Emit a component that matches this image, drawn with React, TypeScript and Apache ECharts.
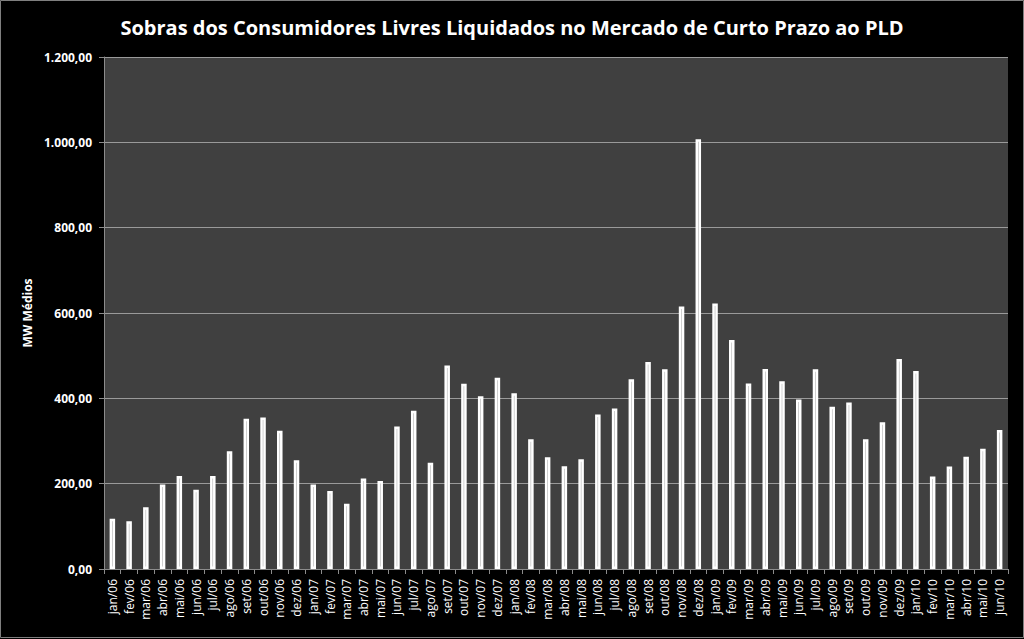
import React, { useEffect, useRef } from "react";
import * as echarts from "echarts";

const categories: string[] = [
  "jan/06", "fev/06", "mar/06", "abr/06", "mai/06", "jun/06", "jul/06", "ago/06", "set/06", "out/06", "nov/06", "dez/06",
  "jan/07", "fev/07", "mar/07", "abr/07", "mai/07", "jun/07", "jul/07", "ago/07", "set/07", "out/07", "nov/07", "dez/07",
  "jan/08", "fev/08", "mar/08", "abr/08", "mai/08", "jun/08", "jul/08", "ago/08", "set/08", "out/08", "nov/08", "dez/08",
  "jan/09", "fev/09", "mar/09", "abr/09", "mai/09", "jun/09", "jul/09", "ago/09", "set/09", "out/09", "nov/09", "dez/09",
  "jan/10", "fev/10", "mar/10", "abr/10", "mai/10", "jun/10",
];

const values: number[] = [
  118, 112, 145, 198, 218, 186, 218, 276, 352, 355, 324, 255,
  198, 183, 153, 212, 206, 334, 371, 249, 477, 434, 405, 448,
  412, 304, 262, 241, 257, 362, 376, 445, 485, 468, 615, 1007,
  622, 537, 435, 469, 440, 397, 468, 380, 390, 304, 344, 492,
  464, 217, 240, 263, 282, 326,
];

const yTicks = { min: 0, max: 1200, interval: 200 };

const fmt = (v: number) => {
  const s = v.toFixed(2);
  const [ip, dp] = s.split(".");
  return ip.replace(/\B(?=(\d{3})+(?!\d))/g, ".") + "," + dp;
};

export default function App() {
  const ref = useRef<HTMLDivElement>(null);
  useEffect(() => {
    if (!ref.current) return;
    const chart = echarts.init(ref.current, undefined, { renderer: "svg" });
    chart.setOption({
      animation: false,
      backgroundColor: "#000000",
      title: {
        text: "Sobras dos Consumidores Livres Liquidados no Mercado de Curto Prazo ao PLD",
        left: "center",
        top: 12,
        textStyle: {
          color: "#ffffff",
          fontFamily: "Open Sans",
          fontWeight: "bold",
          fontSize: 20,
        },
      },
      grid: {
        left: 104,
        right: 16,
        top: 57,
        bottom: 70,
        show: true,
        backgroundColor: "#404040",
        borderWidth: 0,
      },
      graphic: [
        {
          type: "rect",
          shape: { x: 0.5, y: 0.5, width: 1023, height: 637 },
          style: { fill: "none", stroke: "#7f7f7f", lineWidth: 1 },
          silent: true,
        },
      ],
      xAxis: {
        type: "category",
        data: categories,
        axisLine: { show: true, lineStyle: { color: "#8c8c8c", width: 1 } },
        axisTick: { show: true, length: 5, lineStyle: { color: "#8c8c8c" } },
        axisLabel: {
          color: "#ffffff",
          rotate: 90,
          interval: 0,
          fontFamily: "Open Sans",
          fontSize: 12,
          margin: 10,
        },
      },
      yAxis: {
        type: "value",
        min: yTicks.min,
        max: yTicks.max,
        interval: yTicks.interval,
        name: "MW Médios",
        nameLocation: "middle",
        nameGap: 70,
        nameRotate: 90,
        nameTextStyle: {
          color: "#ffffff",
          fontFamily: "Open Sans",
          fontWeight: "bold",
          fontSize: 12,
        },
        axisLine: { show: true, lineStyle: { color: "#8c8c8c", width: 1 } },
        axisTick: { show: true, length: 5, lineStyle: { color: "#8c8c8c" } },
        splitLine: { show: true, lineStyle: { color: "#9a9a9a", width: 1 } },
        axisLabel: {
          color: "#ffffff",
          fontFamily: "Open Sans",
          fontWeight: "bold",
          fontSize: 12,
          margin: 12,
          formatter: (v: number) => fmt(v),
        },
      },
      series: [
        {
          type: "bar",
          data: values,
          barWidth: 5.5,
          itemStyle: {
            color: "#a0a0a0",
            borderColor: "#ffffff",
            borderWidth: 2.5,
          },
        },
      ],
    });
    return () => chart.dispose();
  }, []);
  return (
    <div
      ref={ref}
      style={{ position: "fixed", left: 0, top: 0, width: 1024, height: 639 }}
    />
  );
}
